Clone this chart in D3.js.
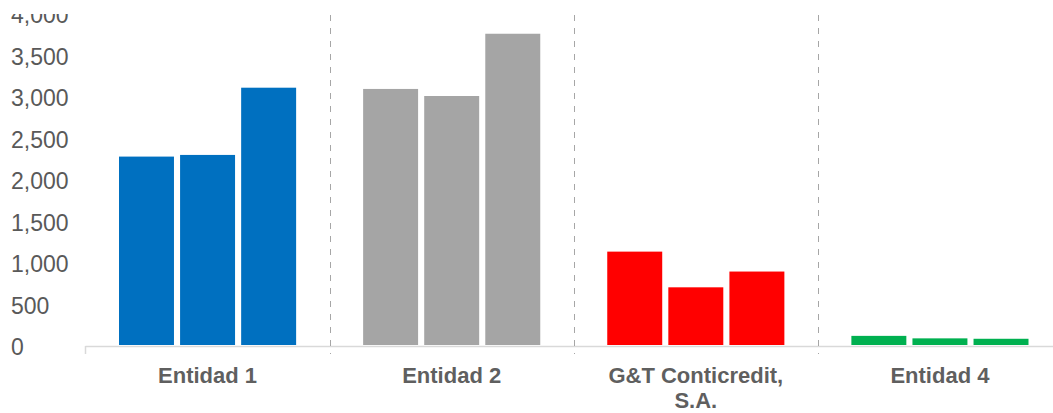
<!DOCTYPE html>
<html><head><meta charset="utf-8">
<script src="https://cdn.jsdelivr.net/npm/d3@7"></script>
<style>html,body{margin:0;padding:0;background:#fff;overflow:hidden}</style>
</head><body><svg id="c" width="1053" height="413"></svg>
<script>
const categories = ["Entidad 1", "Entidad 2", "G&T Conticredit, S.A.", "Entidad 4"];
const labelLines = [["Entidad 1"], ["Entidad 2"], ["G&T Conticredit,", "S.A."], ["Entidad 4"]];
const series = ["s1", "s2", "s3"];
const values = [
  [2270, 2290, 3100],
  [3085, 3000, 3750],
  [1125, 695, 885],
  [110, 80, 75]
];
const colors = ["#0070C0", "#A5A5A5", "#FF0000", "#00B050"];
const yTicks = [0, 500, 1000, 1500, 2000, 2500, 3000, 3500, 4000];

const svg = d3.select("#c");
const x0 = d3.scaleBand().domain(categories).range([85.5, 1062]).padding(0);
const inner = 33.5;
const x1 = d3.scaleBand().domain(series).range([inner, x0.bandwidth() - inner]).paddingInner(0.1);
const y = d3.scaleLinear().domain([0, 4000]).range([345, 13]);

// clip for y labels (top label is cut in the reference)
svg.append("defs").append("clipPath").attr("id", "yclip")
  .append("rect").attr("x", 0).attr("y", 14).attr("width", 90).attr("height", 400);

const yg = svg.append("g").attr("clip-path", "url(#yclip)");
yg.selectAll("text").data(yTicks).join("text")
  .attr("x", 11).attr("y", d => y(d) + 2)
  .attr("dominant-baseline", "central")
  .attr("font-family", "Liberation Sans, Arial, sans-serif")
  .attr("font-size", 23).attr("fill", "#595959")
  .text(d => d3.format(",")(d));

// bars
const groups = svg.append("g").selectAll("g").data(categories).join("g")
  .attr("transform", d => `translate(${x0(d)},0)`);
groups.selectAll("rect").data((d, i) => values[i].map((v, j) => ({v, s: series[j], c: colors[i]})))
  .join("rect")
  .attr("x", d => x1(d.s)).attr("width", x1.bandwidth())
  .attr("y", d => y(d.v)).attr("height", d => y(0) - y(d.v))
  .attr("fill", d => d.c);

// axis line
svg.append("line").attr("x1", x0.range()[0]).attr("x2", 1053)
  .attr("y1", 346.5).attr("y2", 346.5).attr("stroke", "#d9d9d9").attr("stroke-width", 1.5);
svg.append("line").attr("x1", x0.range()[0]).attr("x2", x0.range()[0])
  .attr("y1", 346).attr("y2", 354).attr("stroke", "#d9d9d9").attr("stroke-width", 1.5);

// dashed separators
svg.append("g").selectAll("line").data(categories.slice(1)).join("line")
  .attr("x1", d => Math.round(x0(d)) + 0.5).attr("x2", d => Math.round(x0(d)) + 0.5)
  .attr("y1", 15).attr("y2", 354)
  .attr("stroke", "#a6a6a6").attr("stroke-width", 1).attr("stroke-dasharray", "6,7");

// x labels
const xl = svg.append("g").selectAll("text").data(categories).join("text")
  .attr("x", d => x0(d) + x0.bandwidth() / 2)
  .attr("y", 383)
  .attr("text-anchor", "middle")
  .attr("font-family", "Liberation Sans, Arial, sans-serif")
  .attr("font-size", 22).attr("font-weight", "bold").attr("fill", "#5f5f5f");
xl.each(function(d, i) {
  const t = d3.select(this);
  labelLines[i].forEach((ln, k) => {
    t.append("tspan").attr("x", x0(d) + x0.bandwidth() / 2).attr("dy", k === 0 ? 0 : 25).text(ln);
  });
});
</script>
</body></html>
